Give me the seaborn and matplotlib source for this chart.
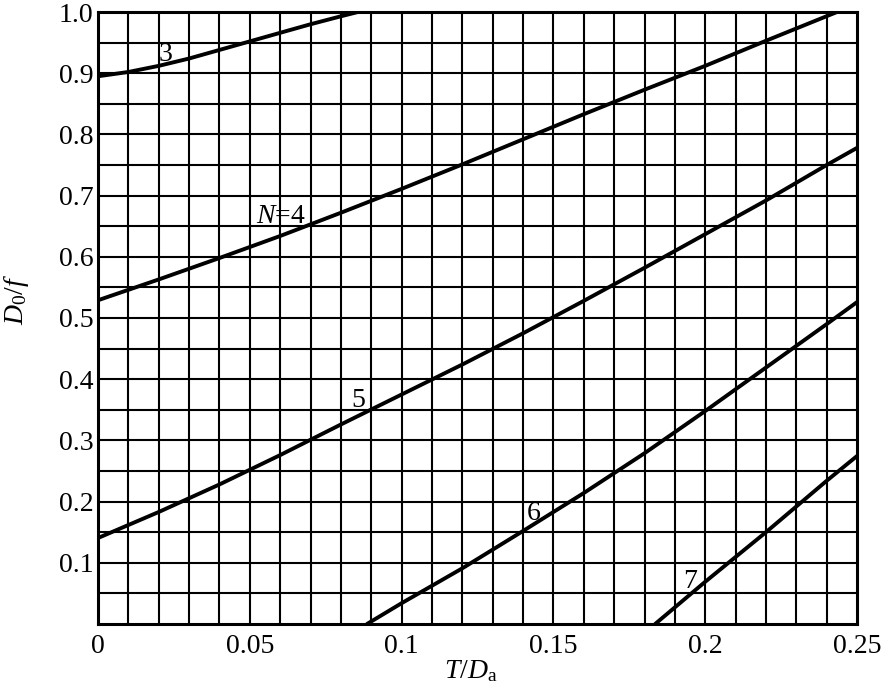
import numpy as np
import pandas as pd
import matplotlib
matplotlib.use("Agg")
import matplotlib.pyplot as plt
import seaborn as sns

# ---- data ----
x_n3 = [0.0, 0.01, 0.02, 0.03, 0.04, 0.05, 0.06, 0.07, 0.08, 0.0856]
y_n3 = [0.895, 0.902, 0.912, 0.924, 0.938, 0.952, 0.966, 0.980, 0.993, 1.0]

x_n4 = [0.0, 0.02, 0.04, 0.06, 0.08, 0.10, 0.12, 0.14, 0.16, 0.18, 0.20, 0.22, 0.2434]
y_n4 = [0.529, 0.563, 0.598, 0.634, 0.672, 0.711, 0.751, 0.792, 0.833, 0.873, 0.912, 0.953, 1.0]

x_n5 = [0.0, 0.02, 0.04, 0.06, 0.08, 0.10, 0.12, 0.14, 0.16, 0.18, 0.20, 0.22, 0.24, 0.25]
y_n5 = [0.1405, 0.183, 0.228, 0.276, 0.326, 0.375, 0.424, 0.475, 0.528, 0.582, 0.637, 0.692, 0.750, 0.778]

x_n6 = [0.0886, 0.10, 0.12, 0.14, 0.16, 0.18, 0.20, 0.22, 0.24, 0.25]
y_n6 = [0.0, 0.034, 0.091, 0.152, 0.214, 0.279, 0.348, 0.419, 0.490, 0.526]

x_n7 = [0.1835, 0.20, 0.22, 0.24, 0.25]
y_n7 = [0.0, 0.069, 0.150, 0.234, 0.2745]

curve_labels = ["3", "$N$=4", "5", "6", "7"]
label_x = [0.0221, 0.0603, 0.0856, 0.1436, 0.195]
label_y = [0.920, 0.655, 0.3546, 0.170, 0.0588]

x_ticks = [0, 0.05, 0.1, 0.15, 0.2, 0.25]
x_ticklabels = ["0", "0.05", "0.1", "0.15", "0.2", "0.25"]
y_ticks = [0.1, 0.2, 0.3, 0.4, 0.5, 0.6, 0.7, 0.8, 0.9, 1.0]
y_ticklabels = ["0.1", "0.2", "0.3", "0.4", "0.5", "0.6", "0.7", "0.8", "0.9", "1.0"]

frames = []
for n, xs, ys in [(3, x_n3, y_n3), (4, x_n4, y_n4), (5, x_n5, y_n5), (6, x_n6, y_n6), (7, x_n7, y_n7)]:
    frames.append(pd.DataFrame({"x": xs, "y": ys, "N": str(n)}))
df = pd.concat(frames, ignore_index=True)

sns.set_theme(style="white")
plt.rcParams["font.family"] = ["Liberation Serif", "DejaVu Serif"]
plt.rcParams["mathtext.fontset"] = "custom"
plt.rcParams["mathtext.rm"] = "Liberation Serif"
plt.rcParams["mathtext.it"] = "Liberation Serif:italic"

fig = plt.figure(figsize=(8.83, 6.86), dpi=100)
ax = fig.add_axes([0.111, 0.0904, 0.8596, 0.8921])

# grid
for gx in np.arange(0.01, 0.245, 0.01):
    ax.axvline(gx, color="black", lw=1.5, zorder=1)
for gy in np.arange(0.05, 0.99, 0.05):
    ax.axhline(gy, color="black", lw=1.5, zorder=1)

sns.lineplot(data=df, x="x", y="y", hue="N", units="N", estimator=None, sort=False,
             palette=["black"] * 5, legend=False, lw=2.8, ax=ax, zorder=3)
for line in ax.lines:
    line.set_solid_capstyle("round")
    line.set_solid_joinstyle("round")

for t, lx, ly in zip(curve_labels, label_x, label_y):
    ax.text(lx, ly, t, fontsize=20, ha="center", va="baseline", color="black", zorder=4)

ax.set_xlim(0, 0.25)
ax.set_ylim(0, 1.0)
ax.set_xticks(x_ticks)
ax.set_xticklabels(x_ticklabels)
ax.set_yticks(y_ticks)
ax.set_yticklabels(y_ticklabels)
ax.tick_params(axis="both", length=0, labelsize=20, colors="black")
ax.tick_params(axis="x", pad=7)
ax.tick_params(axis="y", pad=3.5)
for s in ax.spines.values():
    s.set_color("black")
    s.set_linewidth(2.2)
    s.set_visible(True)

ax.set_xlabel(r"$T/D_{\mathrm{a}}$", fontsize=20, color="black")
ax.set_ylabel(r"$D_{\mathrm{0}}/f$", fontsize=20, color="black")
ax.xaxis.set_label_coords(0.491, -0.056)
ax.yaxis.set_label_coords(-0.088, 0.53)

fig.savefig("out.png", dpi=100)
